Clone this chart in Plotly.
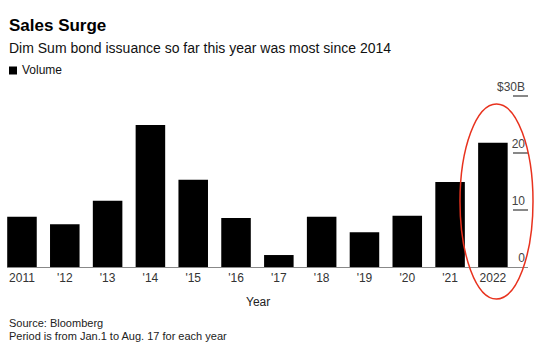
import plotly.graph_objects as go

years = ["2011", "'12", "'13", "'14", "'15", "'16", "'17", "'18", "'19", "'20", "'21", "2022"]
volume = [8.8, 7.5, 11.6, 24.9, 15.3, 8.6, 2.1, 8.8, 6.1, 9.0, 14.9, 21.8]
ytick_vals = [0, 10, 20, 30]
ytick_text = ["0", "10", "20", "$30B"]

FONT = "Liberation Sans, Arial, sans-serif"

fig = go.Figure()
fig.add_trace(go.Bar(
    x=list(range(len(years))), y=volume, name="Volume",
    marker=dict(color="#000000", line=dict(width=0)),
    showlegend=False,
))

W, H = 553, 362
ml, mr, mt, mb = 7, 25, 76, 95
pw, ph = W - ml - mr, H - mt - mb

def py(p):
    return (H - mb - p) / ph

def px(p):
    return (p - ml) / pw

fig.update_layout(
    width=W, height=H,
    margin=dict(l=ml, r=mr, t=mt, b=mb, pad=0),
    paper_bgcolor="white", plot_bgcolor="white",
    font=dict(family=FONT, size=12, color="#333333"),
    bargap=0.31,
    xaxis=dict(
        tickmode="array", tickvals=list(range(len(years))), ticktext=years,
        range=[-0.35, 11.82], showgrid=False, zeroline=False,
        showline=True, linecolor="#888888", linewidth=1,
        ticks="", tickfont=dict(size=12, color="#333333"),
    ),
    yaxis=dict(
        side="right", range=[0, 33.5], tickmode="array",
        tickvals=ytick_vals, ticktext=ytick_text,
        ticks="inside", ticklen=15, tickcolor="#888888", tickwidth=1.5,
        ticklabelposition="inside top",
        showgrid=False, zeroline=False, showline=False,
        tickfont=dict(size=12, color="#444444"),
    ),
    annotations=[
        dict(text="<b>Sales Surge</b>", xref="paper", yref="paper", x=0, y=py(25),
             xanchor="left", yanchor="middle", showarrow=False,
             font=dict(size=17, color="#000000", family=FONT)),
        dict(text="Dim Sum bond issuance so far this year was most since 2014",
             xref="paper", yref="paper", x=0, y=py(48),
             xanchor="left", yanchor="middle", showarrow=False,
             font=dict(size=14, color="#111111", family=FONT)),
        dict(text="Volume", xref="paper", yref="paper", x=px(20), y=py(70),
             xanchor="left", yanchor="middle", showarrow=False,
             font=dict(size=12, color="#111111", family=FONT)),
        dict(text="Year", xref="paper", yref="paper", x=px(258), y=py(302),
             xanchor="center", yanchor="middle", showarrow=False,
             font=dict(size=12, color="#222222", family=FONT)),
        dict(text="Source: Bloomberg", xref="paper", yref="paper", x=0, y=py(323),
             xanchor="left", yanchor="middle", showarrow=False,
             font=dict(size=11, color="#222222", family=FONT)),
        dict(text="Period is from Jan.1 to Aug. 17 for each year", xref="paper", yref="paper",
             x=0, y=py(336), xanchor="left", yanchor="middle", showarrow=False,
             font=dict(size=11, color="#222222", family=FONT)),
    ],
    shapes=[
        dict(type="rect", xref="paper", yref="paper",
             x0=px(9), x1=px(17), y0=py(74.5), y1=py(66.5),
             fillcolor="#000000", line=dict(width=0)),
        dict(type="circle", xref="paper", yref="paper",
             x0=px(460), x1=px(533), y0=py(299), y1=py(104),
             line=dict(color="#e8321e", width=1.5)),
    ],
)

fig.write_html("out.html", config={"displayModeBar": False},
               post_script="document.body.style.margin='0';")
